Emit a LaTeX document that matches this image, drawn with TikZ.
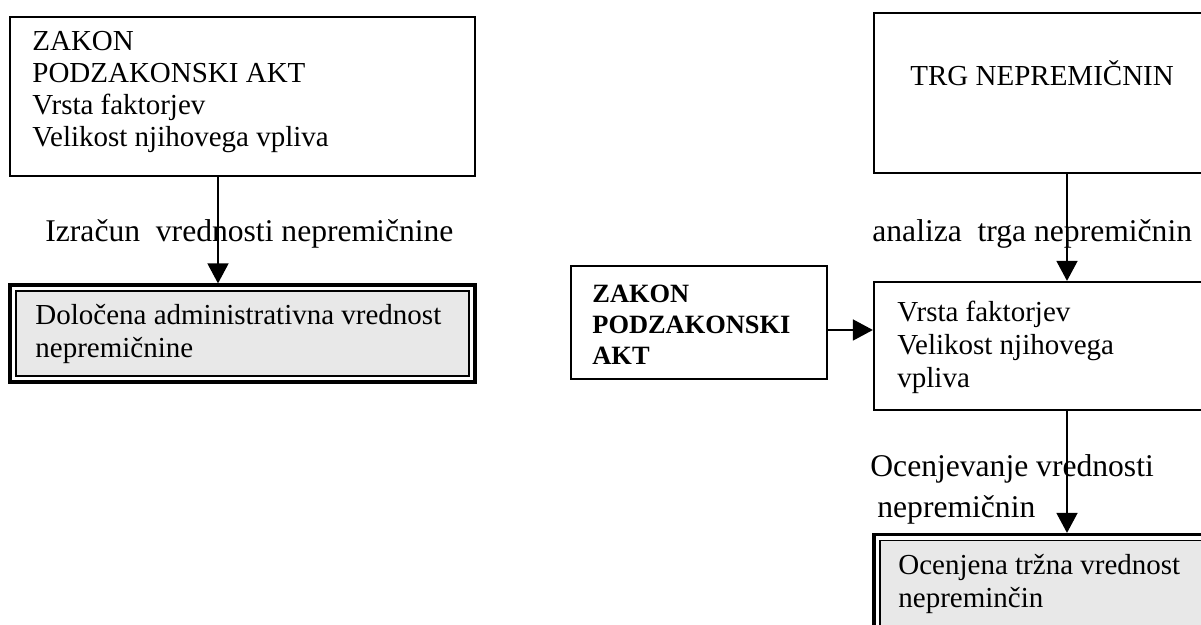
\documentclass[tikz,border=0pt]{standalone}
\usepackage{fontspec}
\setmainfont{Liberation Serif}
\usetikzlibrary{arrows.meta}
\definecolor{boxgray}{RGB}{232,232,232}
\tikzset{
  sbox/.style={draw, line width=1.1pt, inner sep=0pt},
  outerbox/.style={draw, line width=1.6pt, inner sep=0pt},
  innerbox/.style={draw, line width=0.6pt, fill=boxgray, inner sep=0pt},
  arr/.style={line width=0.8pt, -{Triangle[length=10pt,width=10.5pt]}},
  boxtxt/.style={anchor=base west, inner sep=0pt, font=\fontsize{14.5pt}{16.5pt}\selectfont},
  boldtxt/.style={anchor=base west, inner sep=0pt, font=\fontsize{13.2pt}{15.5pt}\selectfont\bfseries},
  lbltxt/.style={anchor=base west, inner sep=0pt, font=\fontsize{15.8pt}{18pt}\selectfont}
}
\begin{document}
\begin{tikzpicture}[x=0.5pt,y=-0.5pt]
\useasboundingbox (0,0) rectangle (1201,625);
\clip (0,0) rectangle (1201,625);
\fill[white] (0,0) rectangle (1201,625);
% left column
\node[sbox, minimum width=232.5pt, minimum height=79.5pt] (ltop) at (242.5,96.5) {};
\node[outerbox, minimum width=232.5pt, minimum height=48.5pt] (ldbl) at (242.5,333.5) {};
\node[innerbox, minimum width=226.5pt, minimum height=42.5pt] (ldblin) at (242.5,333.5) {};
\node[boxtxt] (l1) at (32,51) {ZAKON};
\node[boxtxt] (l2) at (32,83) {PODZAKONSKI AKT};
\node[boxtxt] (l3) at (32,115) {Vrsta faktorjev};
\node[boxtxt] (l4) at (32,147) {Velikost njihovega vpliva};
\node[boxtxt] (d1) at (35,325) {Določena administrativna vrednost};
\node[boxtxt] (d2) at (35,358) {nepremičnine};
\node[lbltxt] (lab1) at (45,242) {Izračun~ vrednosti nepremičnine};
\coordinate (lx) at (218,0);
\draw[arr] (ltop.south -| lx) -- (ldbl.north -| lx);
% right column
\node[sbox, minimum width=194pt, minimum height=80pt] (rtop) at (1068,93) {};
\node[boxtxt] (trg) at (910,86) {TRG NEPREMIČNIN};
\node[sbox, minimum width=128pt, minimum height=56.5pt] (zk) at (699,322.5) {};
\node[boldtxt] (z1) at (592,303) {ZAKON};
\node[boldtxt] (z2) at (592,334) {PODZAKONSKI};
\node[boldtxt] (z3) at (592,365) {AKT};
\node[sbox, minimum width=194pt, minimum height=64pt] (rmid) at (1068,346) {};
\node[boxtxt] (m1) at (897,322) {Vrsta faktorjev};
\node[boxtxt] (m2) at (897,355) {Velikost njihovega};
\node[boxtxt] (m3) at (897,388) {vpliva};
\node[outerbox, minimum width=194pt, minimum height=73pt] (rbot) at (1068,607.5) {};
\node[innerbox, minimum width=188pt, minimum height=67pt] (rbotin) at (1068,607.5) {};
\node[boxtxt] (b1) at (898,575) {Ocenjena tržna vrednost};
\node[boxtxt] (b2) at (898,608) {nepreminčin};
\node[lbltxt] (lab2) at (872,242) {analiza~ trga nepremičnin};
\node[lbltxt] (lab3) at (870,477) {Ocenjevanje vrednosti};
\node[lbltxt] (lab4) at (877,518) {nepremičnin};
\coordinate (rx) at (1067,0);
\coordinate (hy) at (0,330);
\draw[arr] (rtop.south -| rx) -- (rmid.north -| rx);
\draw[arr] (rmid.south -| rx) -- (rbot.north -| rx);
\draw[arr] (zk.east |- hy) -- (rmid.west |- hy);
\end{tikzpicture}
\end{document}
